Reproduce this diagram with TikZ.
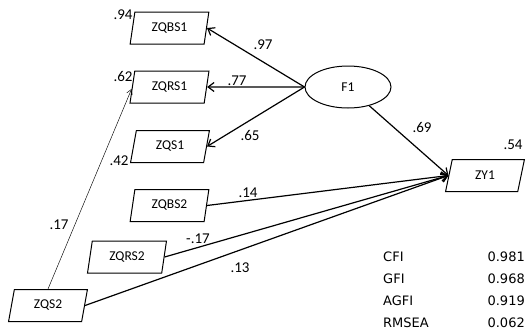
\documentclass[tikz,border=0pt]{standalone}
\usepackage{fontspec}
\setmainfont{Carlito}
\newfontfamily\statfont{DejaVu Sans}
\usetikzlibrary{shapes.geometric,arrows.meta}
\begin{document}
\begin{tikzpicture}[x=1pt,y=-1pt,
  obs/.style={draw,line width=1pt,trapezium,trapezium left angle=77,trapezium right angle=103,
    trapezium stretches=true,minimum width=79pt,minimum height=32pt,inner sep=0pt,
    font=\fontsize{13.5}{15}\selectfont},
  lat/.style={draw,line width=1pt,ellipse,minimum width=86pt,minimum height=42pt,inner sep=0pt,
    font=\fontsize{13.5}{15}\selectfont},
  path/.style={line width=1.2pt,-{Straight Barb[length=6pt,width=9pt,line width=1.2pt]}},
  cov/.style={line width=0.45pt,-{Straight Barb[length=5pt,width=6pt,line width=0.45pt]}},
  coef/.style={inner sep=0pt,font=\fontsize{15}{17}\selectfont},
  stat/.style={inner sep=0pt,font=\statfont\fontsize{13}{15}\selectfont}]
\useasboundingbox (0,0) rectangle (527,333);

% observed indicators and the latent factor
\node[obs] (zqbs1) at (169.5,28) {ZQBS1};
\node[obs] (zqrs1) at (169.5,87) {ZQRS1};
\node[obs] (zqs1) at (170,146.5) {ZQS1};
\node[obs] (zqbs2) at (169.5,205.5) {ZQBS2};
\node[obs] (zqrs2) at (127,257) {ZQRS2};
\node[obs] (zqs2) at (48,305.5) {ZQS2};
\node[obs] (zy1) at (485,175.5) {ZY1};
\node[lat] (f1) at (348,87) {F1};

% loadings
\draw[path] (f1.west) -- (zqbs1.east);
\draw[path] (f1.west) -- (zqrs1.east);
\draw[path] (f1.west) -- (zqs1.east);

% structural paths
\draw[path] (f1) -- (zy1.west);
\draw[path] (zqbs2.east) -- (zy1.west);
\draw[path] (zqrs2.east) -- (zy1.west);
\draw[path] (zqs2.east) -- (zy1.west);

% cross path
\draw[cov] (zqs2.north) -- (zqrs1.183);

% coefficients
\node[coef] (c97) at (263,45) {.97};
\node[coef] (c77) at (237,81) {.77};
\node[coef] (c65) at (250,135) {.65};
\node[coef] (c69) at (422,127) {.69};
\node[coef] (c54) at (513,145) {.54};
\node[coef] (c14) at (248,193) {.14};
\node[coef] (cm17) at (198,239) {-.17};
\node[coef] (c13) at (240,268) {.13};
\node[coef] (c17) at (59,225) {.17};
\node[coef] (c94) at (123,15) {.94};
\node[coef] (c62) at (123,76) {.62};
\node[coef] (c42) at (119,161) {.42};

% fit indices
\node[stat,anchor=west] (cfi) at (383,257) {CFI};
\node[stat,anchor=east] (cfiv) at (525,257) {0.981};
\node[stat,anchor=west] (gfi) at (383,279) {GFI};
\node[stat,anchor=east] (gfiv) at (525,279) {0.968};
\node[stat,anchor=west] (agfi) at (383,301) {AGFI};
\node[stat,anchor=east] (agfiv) at (525,301) {0.919};
\node[stat,anchor=west] (rmsea) at (383,323) {RMSEA};
\node[stat,anchor=east] (rmseav) at (525,323) {0.062};
\end{tikzpicture}
\end{document}
